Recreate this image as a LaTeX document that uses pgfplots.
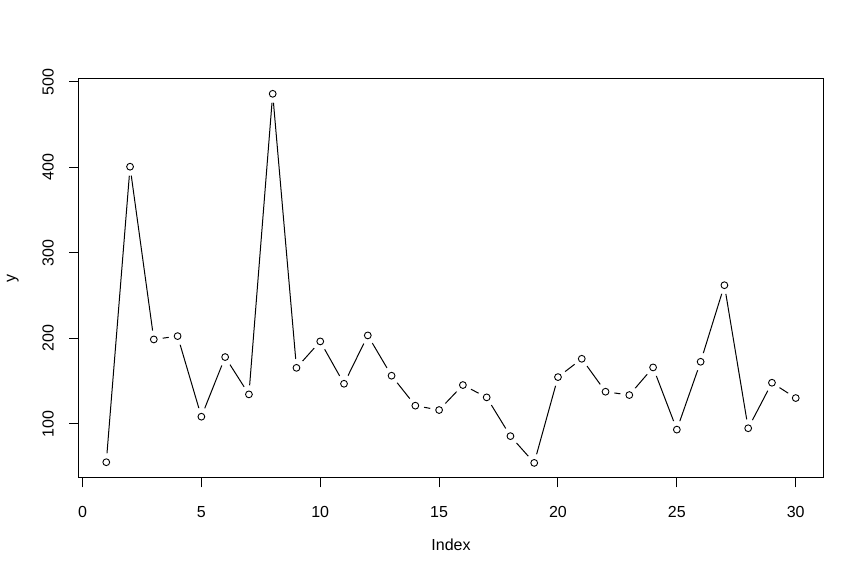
\documentclass[border=0pt]{standalone}
\usepackage{pgfplots}
\pgfplotsset{compat=1.18}
\usepackage{fontspec}
\setmainfont{Liberation Sans}
\begin{document}
\begin{tikzpicture}[font=\fontsize{16}{19}\selectfont]
\useasboundingbox (0,0) rectangle (864pt,576pt);
\pgfplotstableread{
x y
1 55.3
2 400.7
3 198.8
4 202.7
5 108.5
6 178.2
7 134.6
8 485.9
9 165.6
10 196.5
11 147.0
12 203.5
13 156.4
14 121.4
15 116.3
16 145.5
17 131.1
18 85.8
19 54.5
20 154.8
21 176.2
22 137.7
23 133.8
24 166.1
25 93.4
26 172.7
27 262.2
28 95.0
29 148.2
30 130.3
}\ydata
\begin{axis}[
    at={(78.7pt,98.3pt)}, anchor=south west,
    scale only axis,
    width=744.6pt, height=398.7pt,
    xmin=-0.16, xmax=31.16,
    ymin=37.2, ymax=503.2,
    xtick={0,5,...,30},
    ytick={100,200,...,500},
    tick align=outside,
    major tick length=9.6pt,
    xtick pos=bottom, ytick pos=left,
    axis line style={line width=1pt},
    major tick style={black, line width=1pt},
    /pgf/number format/assume math mode=true,
    tick label style={font=\fontsize{16}{19}\selectfont},
    label style={font=\fontsize{16}{19}\selectfont},
    xticklabel style={anchor=north, inner sep=0pt},
    yticklabel style={rotate=90, anchor=south, inner sep=0pt},
    xticklabel shift=19pt,
    yticklabel shift=15pt,
    xlabel=Index, ylabel=y,
    xlabel style={at={(axis description cs:0.5,-0.1693)}, anchor=center},
    ylabel style={at={(axis description cs:-0.0886,0.5)}, anchor=center},
  ]
  \addplot[black, line width=1pt, no marks] table {\ydata};
  \addplot[only marks, mark=*, mark size=8.8pt, mark options={draw=white, fill=white}] table {\ydata};
  \addplot[only marks, mark=o, mark size=3.4pt, mark options={black, line width=0.9pt}] table {\ydata};
\end{axis}
\end{tikzpicture}
\end{document}
